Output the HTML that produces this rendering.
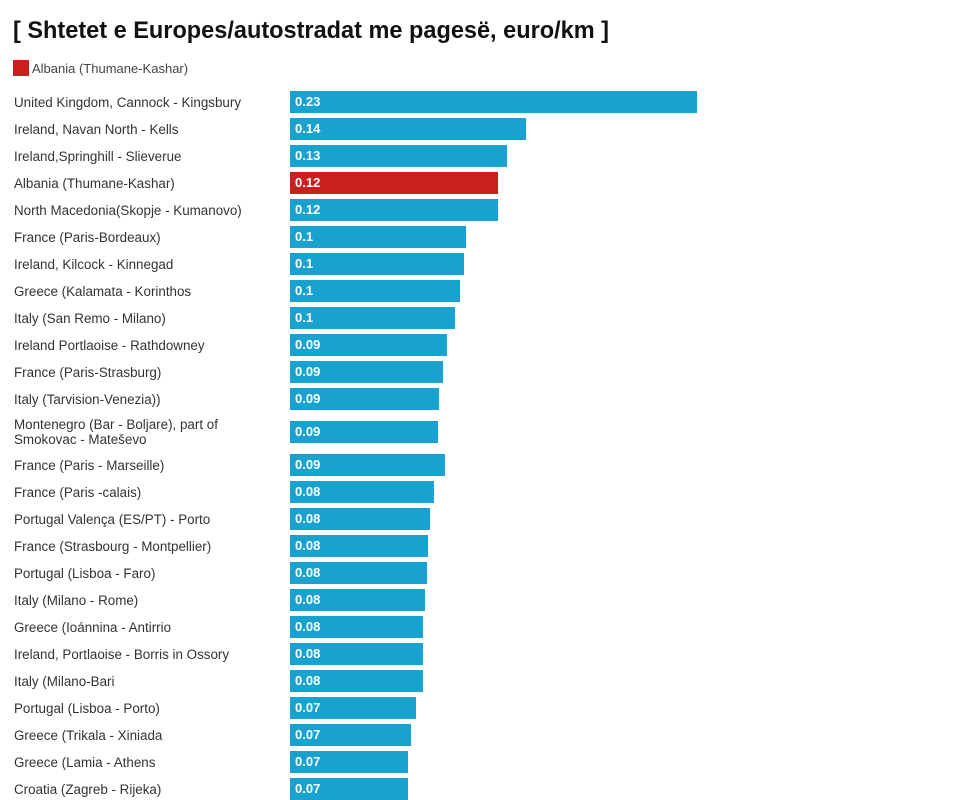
<!DOCTYPE html>
<html><head><meta charset="utf-8">
<style>
body{margin:0;width:980px;height:794px;overflow:hidden;background:#fff;font-family:"Liberation Sans",sans-serif;position:relative}
#title{position:absolute;left:13px;top:17px;font-size:24px;font-weight:bold;color:#111;white-space:nowrap;transform:scaleX(0.98);transform-origin:left}
#legend{position:absolute;left:13px;top:60px;font-size:13px;color:#444;display:flex;align-items:center}
#legend span.sw{width:16px;height:16px;background:#c91f1f;margin-right:3px;display:inline-block}
.lbl{position:absolute;left:14px;font-size:13.4px;color:#333;line-height:15px}
.bar{position:absolute;left:290px;height:22px}
.val{position:absolute;left:295px;font-size:13px;font-weight:bold;color:#fff;line-height:22px}
</style></head><body>
<div id="title">[ Shtetet e Europes/autostradat me pagesë, euro/km ]</div>
<div id="legend"><span class="sw"></span>Albania (Thumane-Kashar)</div>
<div id="chart"></div>
<script>
const categories=["United Kingdom, Cannock - Kingsbury","Ireland, Navan North - Kells","Ireland,Springhill - Slieverue","Albania (Thumane-Kashar)","North Macedonia(Skopje - Kumanovo)","France (Paris-Bordeaux)","Ireland, Kilcock - Kinnegad","Greece (Kalamata - Korinthos","Italy (San Remo - Milano)","Ireland Portlaoise - Rathdowney","France (Paris-Strasburg)","Italy (Tarvision-Venezia))","Montenegro (Bar - Boljare), part of\nSmokovac - Mateševo","France (Paris - Marseille)","France (Paris -calais)","Portugal Valença (ES/PT) - Porto","France (Strasbourg - Montpellier)","Portugal (Lisboa - Faro)","Italy (Milano - Rome)","Greece (Ioánnina - Antirrio","Ireland, Portlaoise - Borris in Ossory","Italy (Milano-Bari","Portugal (Lisboa - Porto)","Greece (Trikala - Xiniada","Greece (Lamia - Athens","Croatia (Zagreb - Rijeka)"];
const values=[0.230,0.1334,0.1226,0.1175,0.1175,0.0995,0.0983,0.0961,0.0932,0.0887,0.0865,0.0842,0.0836,0.0876,0.0814,0.0791,0.078,0.0774,0.0763,0.0752,0.0752,0.0752,0.0712,0.0684,0.0667,0.0667];
const valueLabels=["0.23","0.14","0.13","0.12","0.12","0.1","0.1","0.1","0.1","0.09","0.09","0.09","0.09","0.09","0.08","0.08","0.08","0.08","0.08","0.08","0.08","0.08","0.07","0.07","0.07","0.07"];
const highlight="Albania (Thumane-Kashar)";
const x0=290, xMax=0.23, wMax=407;
function xScale(v){return v/xMax*wMax;}
const chart=document.getElementById('chart');
let yc=102;
categories.forEach((c,i)=>{
  const two=c.includes('\n');
  if(two&&i>0) yc+=6;
  const l=document.createElement('div');
  l.className='lbl';
  
  
  l.innerHTML=c.replace('\n','<br>');
  l.style.top=(yc-(two?15:7))+'px';
  chart.appendChild(l);
  const b=document.createElement('div');
  b.className='bar';
  
  
  b.style.top=(yc-11)+'px';
  b.style.width=xScale(values[i])+'px';
  b.style.background=c===highlight?'#c91f1f':'#17a2d0';
  chart.appendChild(b);
  const t=document.createElement('div');
  t.className='val';
  
  
  t.style.top=(yc-11)+'px';
  t.textContent=valueLabels[i];
  chart.appendChild(t);
  yc+=27+(two?6:0);
});
</script>
</body></html>
